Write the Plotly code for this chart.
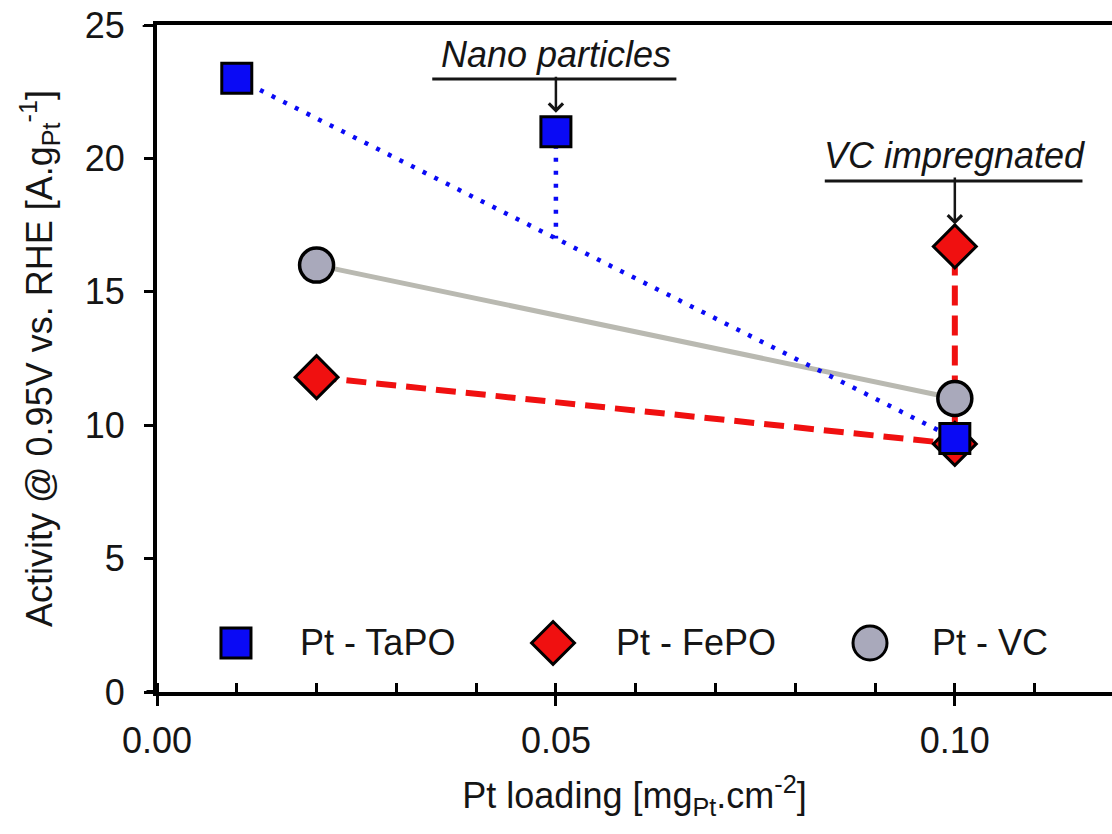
import numpy as np
import plotly.graph_objects as go

# ---------------- data ----------------
tapo_x = [0.01, 0.10]
tapo_y = [23.0, 9.5]
tapo_nano_x = 0.05
tapo_nano_y = 21.0

fepo_x = [0.02, 0.10]
fepo_y = [11.8, 9.3]
fepo_vc_x = 0.10
fepo_vc_y = 16.7

vc_x = [0.02, 0.10]
vc_y = [16.0, 11.0]

series_names = ["Pt - TaPO", "Pt - FePO", "Pt - VC"]
x_ticks = [0.00, 0.05, 0.10]
x_tick_labels = ["0.00", "0.05", "0.10"]
y_ticks = [0, 5, 10, 15, 20, 25]

# ---------------- styles ----------------
FONT = "Liberation Sans, Arial, sans-serif"
BLUE = "#0a0af5"
RED = "#f01010"
GREY_FILL = "#a9a9bb"
GREY_LINE = "#b9b9b1"
TXT = "#151515"
FS = 36

fig = go.Figure()

# lines
fig.add_trace(go.Scatter(x=vc_x, y=vc_y, mode="lines",
                         line=dict(color=GREY_LINE, width=5), showlegend=False, hoverinfo="skip"))
# TaPO trend + branch to nano particle point
branch_base = float(np.interp(tapo_nano_x, tapo_x, tapo_y))
fig.add_trace(go.Scatter(x=tapo_x, y=tapo_y, mode="lines",
                         line=dict(color=BLUE, width=4.5, dash="4px,9px"), showlegend=False, hoverinfo="skip"))
fig.add_trace(go.Scatter(x=[tapo_nano_x, tapo_nano_x], y=[tapo_nano_y, branch_base], mode="lines",
                         line=dict(color=BLUE, width=4.5, dash="4px,9px"), showlegend=False, hoverinfo="skip"))
# FePO trend + vertical to VC impregnated
fig.add_trace(go.Scatter(x=fepo_x + [fepo_vc_x], y=fepo_y + [fepo_vc_y], mode="lines",
                         line=dict(color=RED, width=6, dash="20px,10px"), showlegend=False, hoverinfo="skip"))

# markers
fig.add_trace(go.Scatter(x=fepo_x + [fepo_vc_x], y=fepo_y + [fepo_vc_y], mode="markers", name=series_names[1],
                         marker=dict(symbol="diamond", size=33, color=RED, line=dict(color="black", width=3)),
                         showlegend=False))
fig.add_trace(go.Scatter(x=tapo_x + [tapo_nano_x], y=tapo_y + [tapo_nano_y], mode="markers", name=series_names[0],
                         marker=dict(symbol="square", size=30, color=BLUE, line=dict(color="black", width=3)),
                         showlegend=False))
fig.add_trace(go.Scatter(x=vc_x, y=vc_y, mode="markers", name=series_names[2],
                         marker=dict(symbol="circle", size=34, color=GREY_FILL, line=dict(color="black", width=3.5)),
                         showlegend=False))

# ---------------- manual legend (overlay axis in 0..1 units) ----------------
leg_sym = ["square", "diamond", "circle"]
leg_col = [BLUE, RED, GREY_FILL]
leg_size = [30, 33, 34]
leg_mx = [0.0827, 0.4147, 0.7466]
leg_tx = [0.1476, 0.4785, 0.8094]
leg_y = 0.0735
for i in range(3):
    fig.add_trace(go.Scatter(x=[leg_mx[i]], y=[leg_y], xaxis="x2", yaxis="y2", mode="markers",
                             marker=dict(symbol=leg_sym[i], size=leg_size[i], color=leg_col[i],
                                         line=dict(color="black", width=3)),
                             showlegend=False, hoverinfo="skip"))
    fig.add_annotation(x=leg_tx[i], y=leg_y, xref="x2", yref="y2", text=series_names[i],
                       showarrow=False, xanchor="left", yanchor="middle",
                       font=dict(family=FONT, size=FS, color=TXT))

# ---------------- annotations (label text with arrow to the point) ----------------
ann_font = dict(family=FONT, size=FS, color=TXT)
fig.add_annotation(x=tapo_nano_x, y=tapo_nano_y, ax=0, ay=-77, axref="pixel", ayref="pixel",
                   text="<i>Nano particles</i>", font=ann_font,
                   showarrow=True, arrowhead=4, arrowsize=1.1, arrowwidth=2.5, arrowcolor=TXT,
                   standoff=19)
fig.add_shape(type="line", x0=0.0345, x1=0.0651, y0=22.98, y1=22.98, line=dict(color=TXT, width=3))

fig.add_annotation(x=fepo_vc_x, y=fepo_vc_y, ax=0, ay=-91, axref="pixel", ayref="pixel",
                   text="<i>VC impregnated</i>", font=ann_font,
                   showarrow=True, arrowhead=4, arrowsize=1.1, arrowwidth=2.5, arrowcolor=TXT,
                   standoff=22)
fig.add_shape(type="line", x0=0.0837, x1=0.1160, y0=19.15, y1=19.15, line=dict(color=TXT, width=3))

# axis overhang lines
fig.add_shape(type="line", xref="paper", yref="y", x0=-0.011, x1=0, y0=0, y1=0, line=dict(color="black", width=4))
fig.add_shape(type="line", xref="paper", yref="y", x0=-0.015, x1=0, y0=25, y1=25, line=dict(color="black", width=4))

fig.update_layout(
    width=1112, height=834,
    margin=dict(l=157, r=0, t=25, b=142),
    paper_bgcolor="white", plot_bgcolor="white",
    font=dict(family=FONT, color=TXT),
    showlegend=False,
    xaxis=dict(range=[0, 0.1197], tickvals=x_ticks, ticktext=x_tick_labels,
               showgrid=False, zeroline=False, showline=True, linecolor="black", linewidth=4,
               mirror=True, ticks="outside", ticklen=10, tickwidth=3, tickcolor="black",
               minor=dict(ticks="inside", dtick=0.01, tick0=0, ticklen=9, tickwidth=2.5, tickcolor="black",
                          showgrid=False),
               tickfont=dict(family=FONT, size=FS, color=TXT), ticklabelstandoff=4,
               title=dict(text="Pt loading [mg<sub>Pt</sub>.cm<sup>-2</sup>]",
                          font=dict(family=FONT, size=FS, color=TXT), standoff=24),
               automargin=False),
    yaxis=dict(range=[0, 25], tickvals=y_ticks,
               showgrid=False, zeroline=False, showline=True, linecolor="black", linewidth=4,
               ticks="outside", ticklen=9, tickwidth=3, tickcolor="black",
               tickfont=dict(family=FONT, size=FS, color=TXT), ticklabelstandoff=12,
               title=dict(text="Activity @ 0.95V vs. RHE [A.g<sub>Pt</sub><sup>-1</sup>]",
                          font=dict(family=FONT, size=FS, color=TXT), standoff=22),
               automargin=False),
    xaxis2=dict(range=[0, 1], overlaying="x", visible=False, fixedrange=True),
    yaxis2=dict(range=[0, 1], overlaying="y", visible=False, fixedrange=True),
)

fig.write_html("out.html")
